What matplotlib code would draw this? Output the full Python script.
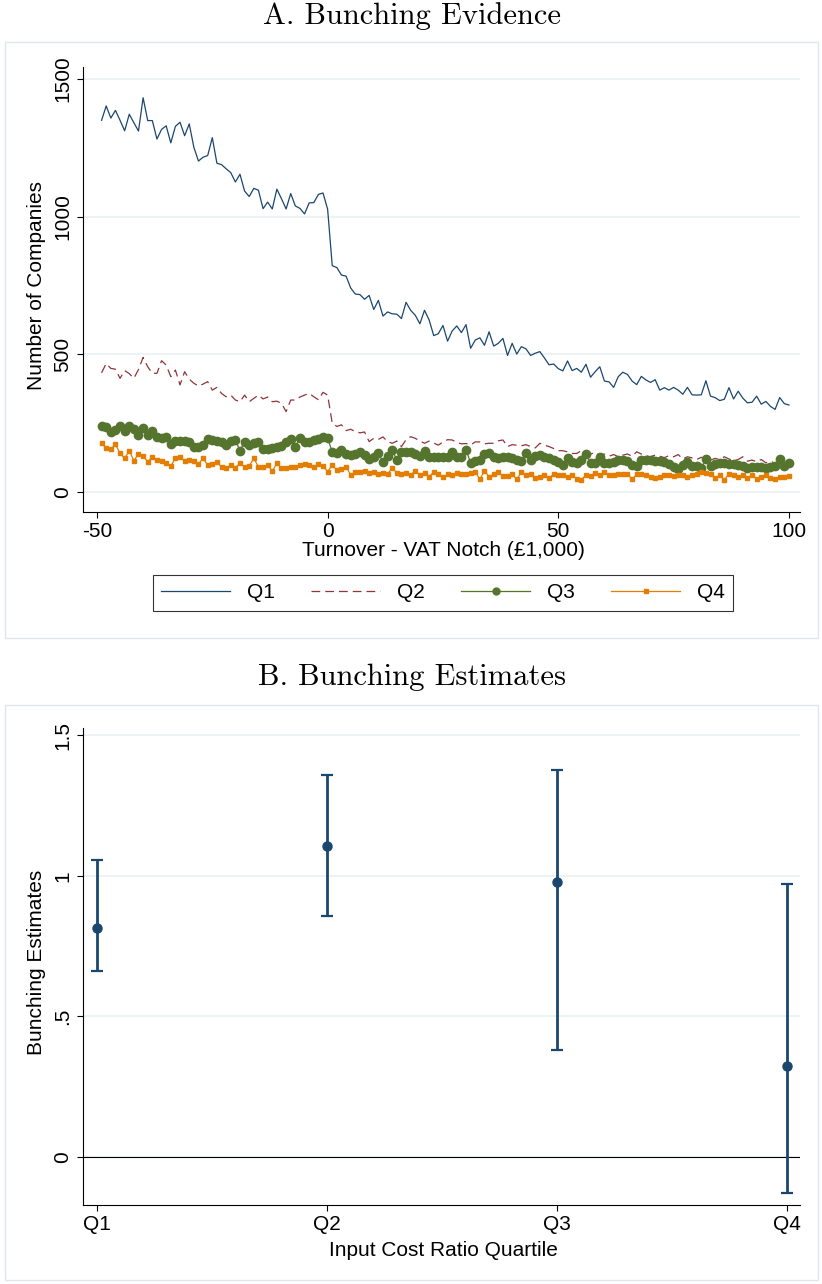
import matplotlib
matplotlib.use("Agg")
import matplotlib.pyplot as plt
from matplotlib.lines import Line2D
from matplotlib.patches import Rectangle
import numpy as np

plt.rcParams['font.family'] = ['Liberation Sans', 'DejaVu Sans']

# ---- Panel A data: turnover bins relative to the VAT notch (£1,000)
bins = list(range(-49, 101))

q1 = [1350, 1402, 1358, 1386, 1350, 1312, 1372, 1341, 1311, 1432,
      1349, 1349, 1282, 1317, 1330, 1268, 1328, 1343, 1294, 1337,
      1252, 1202, 1216, 1222, 1287, 1194, 1189, 1174, 1160,
      1126, 1154, 1093, 1073, 1103, 1096, 1029, 1053, 1028, 1100,
      1065, 1028, 1084, 1039, 1030, 1010, 1050, 1051, 1081, 1086,
      1027, 822, 815, 788, 784, 741, 719, 717, 700, 714,
      663, 696, 639, 654, 647, 646, 630, 689, 660, 642,
      611, 660, 625, 568, 575, 605, 548, 585, 603, 579,
      608, 522, 552, 560, 533, 582, 530, 540, 558,
      496, 540, 501, 528, 520, 496, 504, 510, 487, 462,
      465, 448, 440, 476, 441, 449, 435, 464, 417, 437,
      455, 403, 400, 380, 419, 435, 427, 403, 390,
      420, 407, 398, 408, 370, 379, 370, 380, 370, 355,
      380, 353, 352, 353, 404, 348, 343, 332, 337, 379,
      338, 366, 341, 324, 326, 348, 319, 329, 311, 300,
      343, 321, 316]

q2 = [433, 467, 449, 446, 413, 441, 430, 413, 445, 489,
      455, 431, 431, 477, 461, 419, 443, 389, 437, 410,
      395, 385, 392, 401, 370, 380, 358, 346, 352, 334,
      328, 352, 328, 340, 352, 338, 345, 328, 330,
      322, 292, 334, 334, 345, 352, 358, 346, 335, 362,
      352,
      250, 238, 244, 223, 228, 219, 215, 218, 183, 195,
      191, 200, 183, 177, 185, 165, 190, 201, 195, 185,
      177, 185, 178, 170, 182, 190, 189, 180, 175, 176,
      171, 182, 182, 175, 177, 177, 186, 189, 165, 172,
      170, 168, 172, 165, 160, 177, 170, 165, 158, 150,
      150, 146, 140, 140, 150, 145, 138, 144, 132, 138,
      130, 136, 128, 134, 138, 130, 146, 138, 132, 128,
      134, 130, 125, 132, 128,
      136, 120, 128, 124, 118, 126, 120, 116, 122, 118,
      128, 120, 114, 118, 128, 112, 116, 110, 118, 106,
      112, 104, 110, 102, 106]

q3 = [240, 235, 219, 225, 240, 223, 240, 228, 207, 231,
      207, 223, 199, 195, 201, 174, 186, 186, 186, 183,
      165, 163, 171, 191, 189, 186, 183, 171, 186, 189,
      150, 183, 171, 179, 183, 155, 155, 159, 165, 167,
      183, 191, 165, 195, 183, 183, 189, 191, 201, 195,
      146, 143,
      153, 138, 134, 138, 146, 134, 119, 128, 140, 110,
      131, 153, 116, 146, 146, 146, 138, 131, 150, 126,
      126, 126, 126, 128, 146, 128, 128, 153, 106, 113,
      118, 138, 143, 128, 123, 126, 126, 123, 116, 113,
      143, 118, 131, 134, 126, 123, 118, 110,
      98, 122, 110, 106, 116, 138, 106, 104, 128, 106,
      106, 110, 116, 118, 112, 98, 94, 116, 118, 116,
      113, 112, 110, 101, 90, 82, 98, 110, 94, 96,
      87, 119, 94, 101, 106, 104, 103, 101, 98, 94,
      87, 92, 92, 90, 87, 92, 96, 119, 94, 106]

q4 = [177, 159, 156, 173, 141, 122, 150, 114, 138, 131,
      110, 128, 116, 114, 106, 94, 122, 128, 114, 116,
      112, 102, 122, 98, 102, 110, 90, 86, 98, 89,
      104, 92, 94, 122, 92, 90, 98, 76, 104, 86,
      86, 92, 92, 98, 102, 98, 90, 101, 94, 74,
      98, 80,
      84, 92, 62, 72, 72, 76, 68, 72, 66, 70,
      66, 86, 70, 66, 70, 62, 77, 62, 68, 56,
      72, 64, 53, 64, 62, 68, 64, 64, 70, 74,
      46, 77, 56, 64, 72, 58, 58, 64, 46, 72,
      60, 66, 52, 56, 62, 50, 66, 60,
      62, 56, 60, 48, 44, 62, 58, 70, 62, 72,
      60, 62, 64, 64, 66, 46, 64, 64, 62, 56,
      52, 54, 62, 60, 58, 62, 60, 56, 62, 66,
      72, 70, 64, 52, 60, 44, 66, 60, 56, 62,
      50, 60, 48, 56, 60, 52, 48, 56, 56, 58]

# ---- Panel B data: bunching estimates by input cost ratio quartile
quartiles = ["Q1", "Q2", "Q3", "Q4"]
estimates = [0.815, 1.107, 0.977, 0.322]
ci_low = [0.660, 0.858, 0.382, -0.128]
ci_high = [1.057, 1.357, 1.374, 0.972]

navy = '#1A476F'
maroon = '#90353B'
green = '#55752F'
orange = '#E37E00'
grid_c = '#EAF2F3'
W, H = 822, 1284
fs = 15

fig = plt.figure(figsize=(W / 100, H / 100), dpi=100)


def fx(px):
    return px / W


def fy(py):
    return 1 - py / H


# outer panel frames
for top, bot in [(42, 638), (705, 1280)]:
    fig.patches.append(Rectangle((fx(5), fy(bot)), fx(813), (bot - top) / H,
                                 transform=fig.transFigure, fill=False,
                                 edgecolor='#DCE6EC', lw=1.0))

fig.text(fx(412), fy(16), "A. Bunching Evidence", family='cmr10',
         fontsize=22, ha='center', va='center')
fig.text(fx(412), fy(677), "B. Bunching Estimates", family='cmr10',
         fontsize=22, ha='center', va='center')


def style_axes(ax):
    for s in ['top', 'right']:
        ax.spines[s].set_visible(False)
    for s in ['left', 'bottom']:
        ax.spines[s].set_color('black')
        ax.spines[s].set_linewidth(0.8)
    ax.tick_params(direction='out', length=4, width=0.8, labelsize=fs)
    ax.grid(axis='y', color=grid_c, lw=1.3)
    ax.set_axisbelow(True)


# ---- Panel A
axA = fig.add_axes([fx(83), fy(512), fx(800 - 83), (512 - 67) / H])
style_axes(axA)
axA.plot(bins, q1, color=navy, lw=0.9, label='Q1')
axA.plot(bins, q2, color=maroon, lw=0.9, ls=(0, (7, 4)), label='Q2')
axA.plot(bins, q3, color=green, lw=0.9, marker='o', ms=6, label='Q3')
axA.plot(bins, q4, color=orange, lw=0.9, marker='s', ms=2.4, label='Q4')
axA.set_xlim(-53.03, 102.4)
axA.set_ylim(-72.6, 1543.6)
axA.set_xticks([-50, 0, 50, 100])
axA.set_xticklabels(['-50', '0', '50', '100'])
axA.set_yticks([0, 500, 1000, 1500])
axA.set_yticklabels(['0', '500', '1000', '1500'], rotation=90, va='center')
fig.text(fx(37), fy(285), "Number of Companies", rotation=90,
         fontsize=fs, ha='center', va='center')
fig.text(fx(443), fy(550), "Turnover - VAT Notch (£1,000)",
         fontsize=fs, ha='center', va='center')

handles = [Line2D([], [], color=navy, lw=0.9),
           Line2D([], [], color=maroon, lw=0.9, ls=(0, (7, 4))),
           Line2D([], [], color=green, lw=0.9, marker='o', ms=5),
           Line2D([], [], color=orange, lw=0.9, marker='s', ms=2.4)]
leg = fig.legend(handles, ['Q1', 'Q2', 'Q3', 'Q4'], ncol=4, loc='center',
                 bbox_to_anchor=(fx(153), fy(613), fx(580), 40 / H),
                 mode='expand', fontsize=fs, handlelength=3.3,
                 borderaxespad=0, fancybox=False, frameon=True)
leg.get_frame().set_edgecolor('black')
leg.get_frame().set_linewidth(0.8)

# ---- Panel B
axB = fig.add_axes([fx(83), fy(1205), fx(800 - 83), (1205 - 728) / H])
style_axes(axB)
xpos = np.arange(1, len(quartiles) + 1)
est = np.array(estimates)
err = [est - np.array(ci_low), np.array(ci_high) - est]
axB.axhline(0, color='black', lw=0.8)
axB.errorbar(xpos, est, yerr=err, fmt='o', color=navy, ms=6.5,
             elinewidth=2, capsize=4, capthick=1.6)
axB.set_xlim(0.939, 4.0565)
axB.set_ylim(-0.1706, 1.525)
axB.set_xticks(xpos)
axB.set_xticklabels(quartiles)
axB.set_yticks([0, 0.5, 1, 1.5])
axB.set_yticklabels(['0', '.5', '1', '1.5'], rotation=90, va='center')
fig.text(fx(37), fy(962), "Bunching Estimates", rotation=90,
         fontsize=fs, ha='center', va='center')
fig.text(fx(443), fy(1250), "Input Cost Ratio Quartile",
         fontsize=fs, ha='center', va='center')

fig.savefig('out.png', dpi=100)
